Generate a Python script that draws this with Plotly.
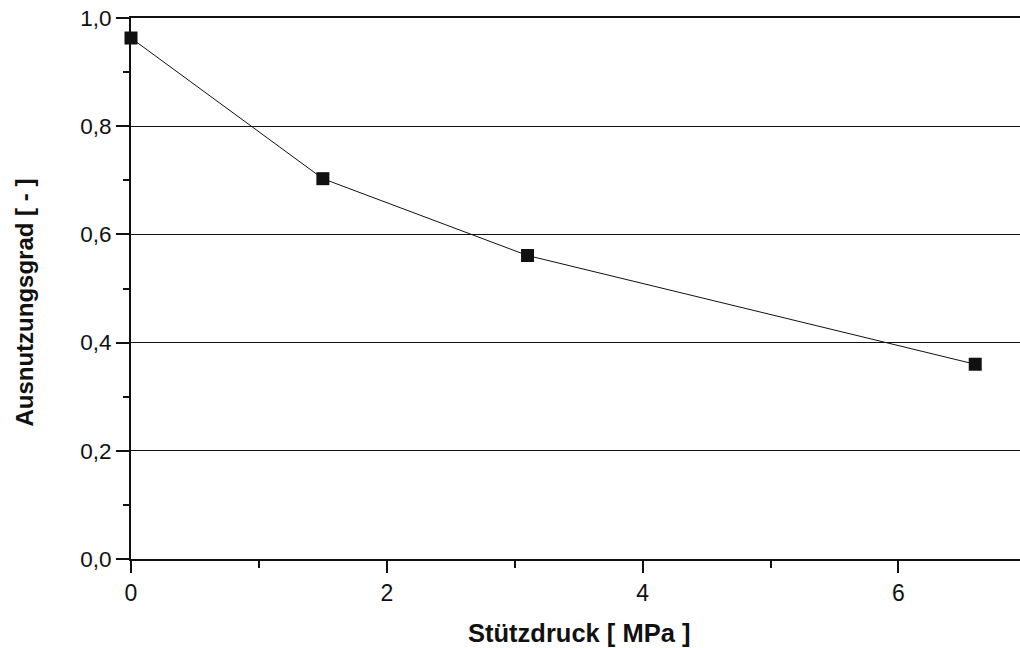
import plotly.graph_objects as go

stuetzdruck = [0.0, 1.5, 3.1, 6.6]
ausnutzung = [0.963, 0.703, 0.561, 0.360]

x_tickvals = [0, 2, 4, 6]
y_tickvals = [0.0, 0.2, 0.4, 0.6, 0.8, 1.0]

fig = go.Figure()
fig.add_trace(go.Scatter(
    x=stuetzdruck, y=ausnutzung, mode="lines+markers",
    line=dict(color="#111111", width=1),
    marker=dict(symbol="square", size=13, color="#111111"),
    cliponaxis=False, showlegend=False,
))

font_family = "Liberation Sans, Arial, sans-serif"
fig.update_layout(
    width=1020, height=648,
    margin=dict(l=131, r=0, t=18, b=89),
    paper_bgcolor="white", plot_bgcolor="white",
    separators=",.",
    font=dict(family=font_family, size=22, color="#111111"),
    xaxis=dict(
        range=[0, 6.95], tickvals=x_tickvals, ticktext=[str(v) for v in x_tickvals],
        showgrid=False, zeroline=False,
        showline=True, linecolor="#111111", linewidth=2, mirror=True,
        ticks="outside", ticklen=12, tickwidth=2, tickcolor="#111111",
        minor=dict(tickvals=[1, 3, 5], ticks="outside", ticklen=7, tickwidth=2, tickcolor="#111111"),
        tickfont=dict(family=font_family, size=23),
    ),
    yaxis=dict(
        range=[0, 1.0], tickvals=y_tickvals, tickformat=".1f",
        showgrid=True, gridcolor="#111111", gridwidth=1, zeroline=False,
        showline=True, linecolor="#111111", linewidth=2,
        ticks="outside", ticklen=13, tickwidth=2, tickcolor="#111111",
        minor=dict(tickvals=[0.1, 0.3, 0.5, 0.7, 0.9], ticks="outside", ticklen=6,
                   tickwidth=2, tickcolor="#111111", showgrid=False),
        tickfont=dict(family=font_family, size=22.5),
    ),
    annotations=[
        dict(text="<b>Stützdruck [ MPa ]</b>", xref="paper", yref="paper",
             x=0.504, y=0, xanchor="center", yanchor="middle", yshift=-74,
             showarrow=False, font=dict(family=font_family, size=25.5, color="#111111")),
        dict(text="<b>Ausnutzungsgrad [ - ]</b>", xref="paper", yref="paper",
             x=0, y=0.474, xanchor="center", yanchor="middle", xshift=-106,
             textangle=-90, showarrow=False,
             font=dict(family=font_family, size=24, color="#111111")),
    ],
)

fig.write_html("out.html")
